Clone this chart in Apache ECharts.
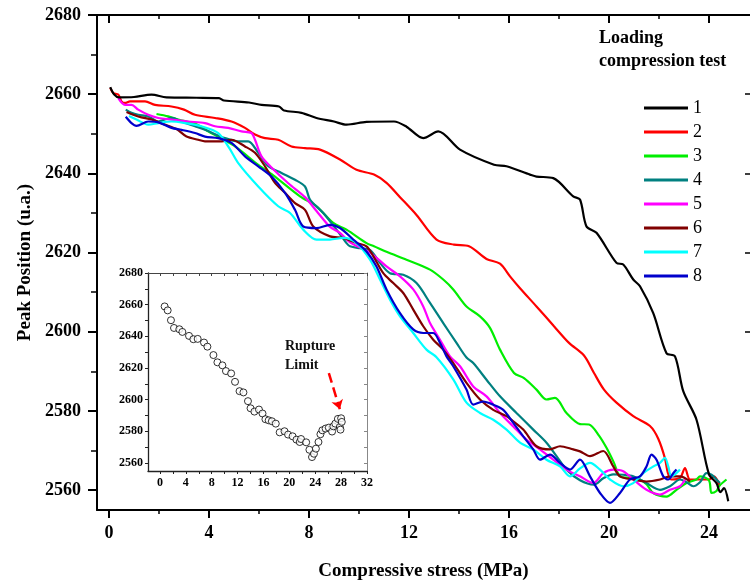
<!DOCTYPE html>
<html><head><meta charset="utf-8">
<script src="https://cdn.jsdelivr.net/npm/echarts@6/dist/echarts.min.js"></script>
<style>html,body{margin:0;padding:0;background:#fff}#c{width:750px;height:586px}</style>
</head><body><div id="c"></div>
<script>
// ---- tick labels ----
const xTicks = [0, 4, 8, 12, 16, 20, 24];
const xMinorTicks = [2, 6, 10, 14, 18, 22];
const yTicks = [2560, 2580, 2600, 2620, 2640, 2660, 2680];
const yMinorTicks = [2570, 2590, 2610, 2630, 2650, 2670];
const insetXTicks = [0, 4, 8, 12, 16, 20, 24, 28, 32];
const insetXMinorTicks = [0, 2, 4, 6, 8, 10, 12, 14, 16, 18, 20, 22, 24, 26, 28, 30, 32];
const insetYTicks = [2560, 2580, 2600, 2620, 2640, 2660, 2680];
const insetYMinorTicks = [2560, 2570, 2580, 2590, 2600, 2610, 2620, 2630, 2640, 2650, 2660, 2670, 2680];

// ---- legend / series names ----
const seriesNames = ['1', '2', '3', '4', '5', '6', '7', '8'];

// ---- series values (stress MPa, peak position) ----
const s1x = [0.05,0.2,0.4,1.0,1.7,2.3,3.5,4.4,4.6,5.6,6.1,6.8,7.0,7.7,8.3,9.0,9.5,10.3,11.4,11.9,12.57,13.17,14.04,15.4,15.9,16.84,17.1,17.77,18.57,18.84,19.1,19.5,20.3,20.57,20.97,21.24,21.77,22.3,22.64,22.97,23.5,24.0,24.3,24.45,24.6,24.77];
const s1y = [2661.8,2660,2659.2,2659.3,2659.9,2659.2,2659.1,2659.0,2658.4,2657.9,2657.3,2656.9,2655.9,2655.3,2654,2653.1,2652.3,2653,2653.1,2651.8,2648.9,2650.6,2646,2642.2,2641.8,2639.7,2639.2,2638.8,2634.2,2633.4,2626.6,2625,2617.4,2617,2613.2,2611.5,2604.7,2594.6,2593.8,2585,2577.8,2564,2561.8,2559.5,2560.5,2557.2];

const s2x = [0.05,0.17,0.37,0.5,0.64,0.84,1.44,1.84,2.5,3.0,3.44,4.24,4.9,5.44,5.84,6.24,6.77,7.3,7.84,8.44,9.24,9.9,10.6,11.1,11.64,12.3,13.1,13.8,14.4,15.1,15.64,16.04,16.44,17.1,17.8,18.4,19.0,19.4,19.8,20.3,20.97,21.64,21.97,22.24,22.35,22.5,22.84,23.04,23.24,23.64,24.0,24.2,24.44];
const s2y = [2661.6,2660.3,2659.9,2658.2,2657.8,2658.2,2658.2,2657.3,2656.9,2656.1,2654.8,2654,2653.1,2651.5,2649.8,2648.9,2648.5,2646.8,2646.4,2646,2643.5,2640.9,2639.7,2637.6,2634,2629.5,2623.3,2622,2621.6,2618.4,2617.2,2614,2611,2606.4,2601.4,2597.2,2594,2589.6,2585.4,2582.1,2578.7,2576.2,2573,2568,2564.5,2562.7,2563.1,2565.6,2562.7,2562.7,2562.7,2563.5,2561];

const s3x = [1.9,2.37,2.77,3.5,4.0,5.0,6.0,6.57,7.64,8.3,8.97,9.5,10.3,10.6,11.1,11.9,12.84,13.37,13.77,14.3,14.84,15.24,15.64,16.2,16.6,17.1,17.5,17.84,18.3,18.84,19.2,19.6,19.9,20.2,20.44,20.84,21.24,21.5,21.77,22.3,22.7,23.1,23.5,23.64,24.0,24.1,24.3,24.4,24.7];
const s3y = [2655,2654.4,2653.6,2652.4,2650.5,2647,2642,2639.5,2634.2,2631.7,2627.5,2625.8,2622.4,2621.6,2620.2,2618.2,2615.7,2613.2,2610.7,2606.4,2603.9,2601,2595.5,2589.6,2588.3,2585.4,2582.9,2583.3,2579.5,2576.7,2576.6,2573.8,2570.7,2566.9,2563.5,2563.1,2562.7,2561.5,2559.3,2558.4,2560.1,2561.8,2562.7,2563.5,2562.5,2559.3,2559.8,2561,2562.7];

const s4x = [0.67,0.9,1.17,1.57,1.97,2.24,2.5,2.9,3.44,3.84,4.64,5.17,5.57,5.97,6.37,6.9,7.44,7.84,8.04,8.57,9.1,9.5,9.64,10.04,10.44,10.84,11.24,11.77,12.3,12.84,13.37,13.9,14.3,14.57,15.1,15.64,16.3,16.97,17.5,17.9,18.3,18.84,19.4,19.77,20.17,20.57,20.97,21.5,22.04,22.44,22.84,23.1,23.37,23.64,23.9,24.1,24.3,24.44];
const s4y = [2656.1,2655.3,2654.8,2654.4,2653.1,2653.6,2654,2653.1,2651.9,2651,2648.9,2648.1,2648.1,2645.2,2641.8,2640.1,2638.4,2636.7,2633.4,2630,2625.8,2622.4,2621.6,2621.1,2620.7,2617.4,2614.8,2614.4,2612.3,2607.3,2602.2,2597.2,2593.5,2592.1,2587.9,2583.7,2579.5,2575.3,2572,2568.6,2565.2,2562.5,2561.4,2563,2564,2563.9,2563.5,2561.8,2560.1,2561,2562.7,2562,2561,2562,2564.3,2563.9,2562.7,2561.8];

const s5x = [0.37,0.64,0.9,1.17,1.57,1.97,2.5,3.17,3.84,4.24,4.77,5.3,5.7,5.84,6.1,6.5,7.17,7.84,8.3,8.84,9.24,9.64,10.44,11.1,11.64,12.17,12.57,12.84,13.24,13.64,14.04,14.57,15.1,15.64,16.17,16.7,17.24,17.77,18.3,18.84,19.37,19.77,20.17,20.57,20.97,21.5,22.04,22.44,22.84,23.04];
const s5y = [2659,2657.3,2657.3,2656.1,2654.8,2654,2653.6,2653.1,2652.7,2651.9,2651.5,2650.6,2650.2,2648.5,2644.3,2641.5,2637.5,2634,2630.5,2626.5,2625,2622.6,2620,2616.5,2614,2610.7,2606.4,2602.2,2598,2593.8,2591.3,2586.2,2583.7,2579.5,2576.1,2572.8,2570.3,2567.7,2565.2,2563.5,2561.8,2564.3,2565.2,2564.8,2562.7,2560.1,2558.9,2560.1,2561,2562.7];

const s6x = [0.7,1.2,1.7,2.2,2.7,3.1,3.57,3.84,4.5,4.9,5.44,5.84,6.24,6.64,7.04,7.44,7.84,8.17,8.84,9.37,9.9,10.3,10.57,10.97,11.37,11.77,12.17,12.57,12.97,13.37,13.77,14.3,14.84,15.37,15.9,16.17,16.57,17.1,17.64,18.04,18.57,18.84,19.24,19.77,20.17,20.44,20.97,21.5,22.04,22.44,22.84,23.24];
const s6y = [2655.5,2654.3,2653.6,2652.4,2651.2,2649.3,2648.5,2648.1,2648.1,2648.5,2646.8,2645.2,2641.8,2637.6,2635.1,2632.5,2630.8,2626.6,2624.1,2623.7,2622.4,2621.6,2619.1,2614.8,2612.3,2609.8,2605.6,2601.4,2598,2595.5,2592.1,2587.1,2582.9,2580.3,2578.7,2577.4,2575.3,2571.1,2570.3,2571.1,2570.3,2569.8,2568.6,2569.9,2566,2563.5,2562.7,2562.2,2562.7,2563.5,2563.5,2562.2];

const s7x = [0.8,1.1,1.57,1.97,2.5,3.04,3.7,4.37,4.8,5.17,5.97,6.77,7.24,7.77,8.3,8.84,9.37,9.9,10.44,10.84,11.24,11.64,12.17,12.7,13.1,13.77,14.3,14.84,15.37,15.9,16.44,16.97,17.5,18.04,18.44,18.84,19.24,19.64,20.04,20.57,20.97,21.37,21.77,22.04,22.24,22.37,22.5,22.84];
const s7y = [2654.5,2653.6,2652.3,2652.7,2653.1,2652.7,2651.9,2650.2,2646.5,2642.6,2636.7,2631.7,2630,2625.8,2623.3,2623.3,2623.7,2622.4,2618.2,2613.2,2608.1,2603.9,2599.7,2595.5,2593.6,2588,2582.1,2579.5,2577.8,2575.3,2572,2570.3,2567.7,2566,2563.5,2565.5,2566.9,2565.2,2562.7,2561,2561.8,2564.3,2566,2566.9,2568.2,2566,2563.5,2565.2];

const s8x = [0.67,0.9,1.1,1.57,1.97,2.5,2.9,3.44,3.84,4.37,4.9,5.44,5.97,6.5,7.04,7.44,7.77,8.3,8.84,9.24,9.77,10.3,10.7,11.1,11.64,12.17,12.57,12.97,13.24,13.5,13.77,14.3,14.57,14.97,15.37,15.77,16.17,16.57,16.97,17.24,17.64,18.04,18.44,18.84,19.24,19.64,20.04,20.44,20.84,21.24,21.5,21.7,21.9,22.17,22.37,22.57,22.7];
const s8y = [2654.3,2652.7,2652,2653.1,2652.9,2651.5,2651,2650.2,2649.3,2648.9,2647.7,2644.3,2641.8,2639.2,2635.1,2630.8,2626.6,2626.2,2627,2626.2,2623.3,2620.3,2616.5,2610.7,2604.7,2600.6,2599.7,2599.7,2597.2,2593.8,2591.3,2585.4,2581.6,2582.4,2581.6,2580.3,2577,2573.6,2570.3,2567.7,2569,2566.9,2565.2,2567.7,2563.5,2559.3,2556.8,2559.3,2562.7,2563.5,2566,2569,2567.7,2563.5,2562.7,2564.3,2565.2];

// ---- inset values ----
const insetX = [0.72,1.19,1.70,2.17,2.99,3.46,4.49,5.16,5.83,6.81,7.33,8.26,8.88,9.65,10.2,11.0,11.6,12.3,12.9,13.6,14.0,14.6,15.3,15.85,16.3,16.8,17.3,17.9,18.5,19.25,19.8,20.5,21.1,21.6,21.8,22.6,23.1,23.5,23.8,24.1,24.5,24.8,25.1,25.6,26.1,26.6,26.8,27.1,27.5,27.8,28.0,28.1,27.9];
const insetY = [2658.9,2656.4,2650.2,2645.3,2644.5,2642.8,2640.3,2638.2,2638.4,2636.1,2633.5,2628.2,2623.6,2621.7,2618.1,2616.6,2611.3,2605.4,2604.6,2599.1,2594.6,2592.5,2593.8,2591.3,2587.7,2587.0,2586.4,2584.9,2579.4,2580.1,2578.0,2576.9,2574.8,2573.3,2575.2,2573.1,2568.4,2563.8,2565.9,2569.1,2573.3,2578.2,2580.7,2581.8,2582.4,2579.9,2583.2,2584.9,2587.9,2582.8,2588.3,2586.0,2581.1];
const arrowStart = [26.1, 2616.8];
const arrowEnd = [27.8, 2594];

const seriesX = [s1x, s2x, s3x, s4x, s5x, s6x, s7x, s8x];
const seriesY = [s1y, s2y, s3y, s4y, s5y, s6y, s7y, s8y];
const colors = ['#000000', '#ff0000', '#00ee00', '#008080', '#ff00ff', '#800000', '#00ffff', '#0000cc'];

const FONT = 'Liberation Serif';
const zip = (xs, ys) => xs.map((x, i) => [x, ys[i]]);
const plain = (v) => String(v);

const boldLabel = (size) => ({ color: '#000', fontFamily: FONT, fontSize: size, fontWeight: 'bold' });

const mainX = { gridIndex: 0, type: 'value', min: -0.48, max: 25.64, splitLine: { show: false } };
const mainY = { gridIndex: 0, type: 'value', min: 2555, max: 2680, splitLine: { show: false } };
const insX = { gridIndex: 1, type: 'value', min: -1.85, max: 32, splitLine: { show: false } };
const insY = { gridIndex: 1, type: 'value', min: 2555, max: 2680, splitLine: { show: false } };

const chart = echarts.init(document.getElementById('c'), null, { renderer: 'canvas' });
chart.setOption({
  animation: false,
  backgroundColor: '#fff',
  title: {
    text: 'Loading\ncompression test',
    left: 599, top: 27, padding: 0,
    textStyle: { color: '#000', fontFamily: FONT, fontSize: 18, fontWeight: 'bold', lineHeight: 23 }
  },
  legend: {
    data: seriesNames.map(n => ({ name: n, icon: 'rect' })),
    orient: 'vertical',
    left: 644, top: 99, padding: 0,
    itemWidth: 44, itemHeight: 3, itemGap: 6,
    selectedMode: false,
    textStyle: { color: '#000', fontFamily: FONT, fontSize: 18, lineHeight: 18 }
  },
  grid: [
    { left: 97, top: 15, right: 0, bottom: 76 },
    { left: 148, top: 273, right: 383, bottom: 115 }
  ],
  xAxis: [
    Object.assign({}, mainX, {
      position: 'bottom',
      axisLine: { show: true, onZero: false, lineStyle: { color: '#000', width: 2 } },
      axisTick: { show: true, inside: false, length: 8, customValues: xTicks, lineStyle: { color: '#000', width: 2 } },
      axisLabel: Object.assign({ customValues: xTicks, margin: 14, formatter: plain }, boldLabel(18)),
      name: 'Compressive stress (MPa)', nameLocation: 'middle', nameGap: 52,
      nameTextStyle: boldLabel(19)
    }),
    Object.assign({}, mainX, {
      position: 'bottom',
      axisLine: { show: false, onZero: false },
      axisTick: { show: true, inside: false, length: 4, customValues: xMinorTicks, lineStyle: { color: '#000', width: 1.5 } },
      axisLabel: { show: false }
    }),
    Object.assign({}, mainX, {
      position: 'top',
      axisLine: { show: true, onZero: false, lineStyle: { color: '#000', width: 2 } },
      axisTick: { show: true, inside: true, length: 8, customValues: xTicks, lineStyle: { color: '#000', width: 2 } },
      axisLabel: { show: false }
    }),
    Object.assign({}, mainX, {
      position: 'top',
      axisLine: { show: false, onZero: false },
      axisTick: { show: true, inside: true, length: 4, customValues: xMinorTicks, lineStyle: { color: '#000', width: 1.5 } },
      axisLabel: { show: false }
    }),
    Object.assign({}, insX, {
      position: 'bottom',
      axisLine: { show: true, onZero: false, lineStyle: { color: '#222', width: 1.3 } },
      axisTick: { show: true, inside: false, length: 3, customValues: insetXMinorTicks, lineStyle: { color: '#222', width: 1 } },
      axisLabel: Object.assign({ customValues: insetXTicks, margin: 6, formatter: plain }, boldLabel(12))
    }),
    Object.assign({}, insX, {
      position: 'top',
      axisLine: { show: true, onZero: false, lineStyle: { color: '#444', width: 1 } },
      axisTick: { show: true, inside: true, length: 3, customValues: insetXMinorTicks, lineStyle: { color: '#444', width: 1 } },
      axisLabel: { show: false }
    })
  ],
  yAxis: [
    Object.assign({}, mainY, {
      position: 'left',
      axisLine: { show: true, onZero: false, lineStyle: { color: '#000', width: 2 } },
      axisTick: { show: true, inside: false, length: 9, customValues: yTicks, lineStyle: { color: '#000', width: 2 } },
      axisLabel: Object.assign({ customValues: yTicks, margin: 16, formatter: plain }, boldLabel(18)),
      name: 'Peak Position (u.a.)', nameLocation: 'middle', nameGap: 60,
      nameTextStyle: boldLabel(19)
    }),
    Object.assign({}, mainY, {
      position: 'left',
      axisLine: { show: false, onZero: false },
      axisTick: { show: true, inside: false, length: 6, customValues: yMinorTicks, lineStyle: { color: '#000', width: 1.5 } },
      axisLabel: { show: false }
    }),
    Object.assign({}, mainY, {
      position: 'right',
      axisLine: { show: false, onZero: false },
      axisTick: { show: true, inside: true, length: 5, customValues: yTicks, lineStyle: { color: '#000', width: 1.5 } },
      axisLabel: { show: false }
    }),
    Object.assign({}, insY, {
      position: 'left',
      axisLine: { show: true, onZero: false, lineStyle: { color: '#222', width: 1.3 } },
      axisTick: { show: true, inside: false, length: 3, customValues: insetYMinorTicks, lineStyle: { color: '#222', width: 1 } },
      axisLabel: Object.assign({ customValues: insetYTicks, margin: 5, formatter: plain }, boldLabel(12))
    }),
    Object.assign({}, insY, {
      position: 'right',
      axisLine: { show: true, onZero: false, lineStyle: { color: '#888', width: 1 } },
      axisTick: { show: true, inside: true, length: 3, customValues: insetYMinorTicks, lineStyle: { color: '#888', width: 1 } },
      axisLabel: { show: false }
    })
  ],
  graphic: [
    {
      type: 'text', left: 285, top: 337, z: 10,
      style: { text: 'Rupture\nLimit', fill: '#111', font: 'bold 14px "Liberation Serif"', lineHeight: 19 }
    }
  ],
  series: seriesNames.map((name, i) => ({
    name: name,
    type: 'line',
    xAxisIndex: 0, yAxisIndex: 0,
    data: zip(seriesX[i], seriesY[i]),
    symbol: 'none',
    smooth: 0.3,
    color: colors[i],
    itemStyle: { color: colors[i] },
    lineStyle: { color: colors[i], width: 2.2 },
    z: 2 + (i === 0 ? 0.5 : 0)
  })).concat([{
    name: 'inset',
    type: 'scatter',
    xAxisIndex: 4, yAxisIndex: 3,
    data: zip(insetX, insetY),
    symbol: 'circle', symbolSize: 7,
    itemStyle: { color: '#fff', borderColor: '#000', borderWidth: 1 },
    z: 5,
    markLine: {
      silent: true,
      symbol: ['none', 'arrow'], symbolSize: 9,
      label: { show: false },
      lineStyle: { color: '#ff0000', type: 'dashed', width: 2.5 },
      data: [[{ coord: arrowStart }, { coord: arrowEnd }]]
    }
  }])
});
</script>
</body></html>
